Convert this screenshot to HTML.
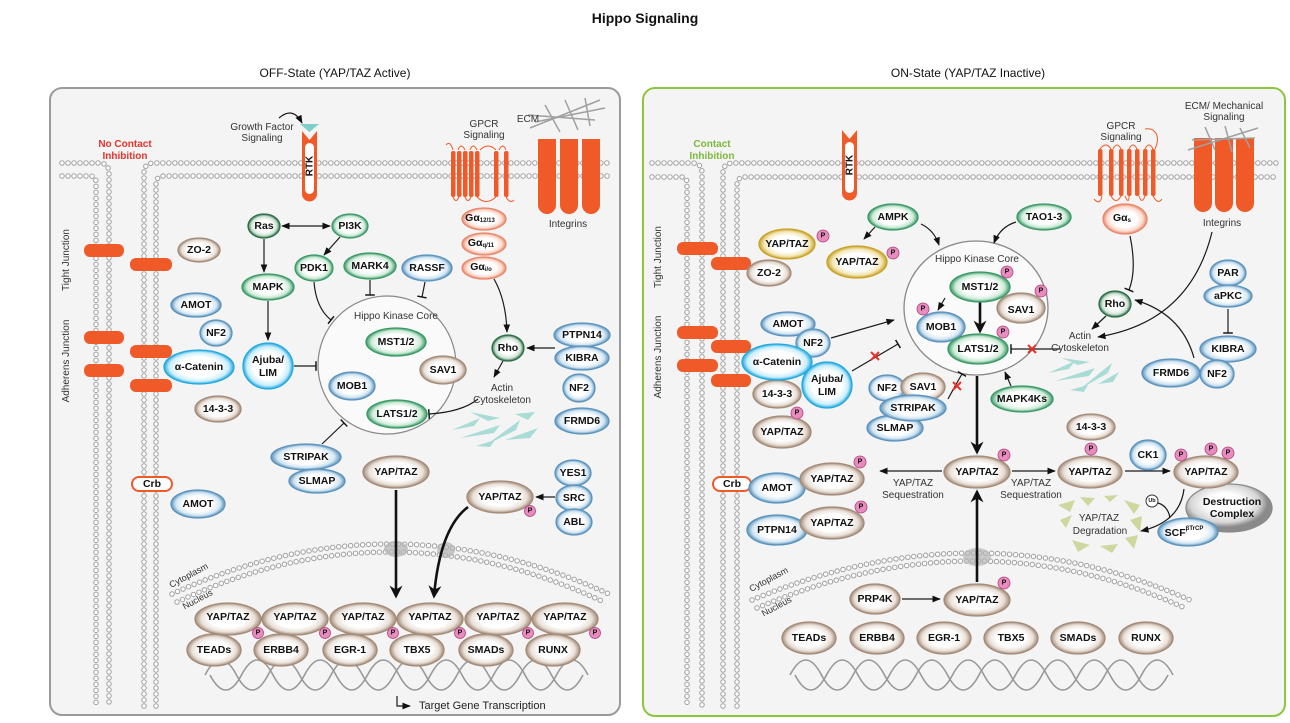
<!DOCTYPE html>
<html><head><meta charset="utf-8"><style>
html,body{margin:0;padding:0;background:#fff;}
svg{display:block;}
text{font-family:"Liberation Sans",sans-serif;fill:#111;}
.n{font-size:10.5px;font-weight:bold;text-anchor:middle;dominant-baseline:central;}
.s{font-family:"Liberation Sans Narrow","Liberation Sans",sans-serif;font-size:10px;text-anchor:middle;fill:#333;}
.p{font-size:7px;font-weight:bold;text-anchor:middle;dominant-baseline:central;}
ellipse{stroke-width:1.3;}
.c{fill:none;stroke:#1a1a1a;stroke-width:1.2;}
.k{fill:none;stroke:#111;stroke-width:2.6;}
.mg{fill:none;stroke:#a3a3a3;stroke-width:5.5;stroke-dasharray:0 6;stroke-linecap:round;}
.mw{fill:none;stroke:#fff;stroke-width:3.4;stroke-dasharray:0 6;stroke-linecap:round;}
.or{fill:#ef5a28;}
.x{stroke:#e8322a;stroke-width:2;}
</style></head><body>
<svg width="1290" height="723" viewBox="0 0 1290 723" xmlns="http://www.w3.org/2000/svg">
<defs>
<radialGradient id="gG"><stop offset="0.55" stop-color="#fff"/><stop offset="0.82" stop-color="#cdebd8"/><stop offset="1" stop-color="#3a9a66"/></radialGradient>
<radialGradient id="gB"><stop offset="0.55" stop-color="#fff"/><stop offset="0.82" stop-color="#d3e6f2"/><stop offset="1" stop-color="#5b93bd"/></radialGradient>
<radialGradient id="gN"><stop offset="0.55" stop-color="#fff"/><stop offset="0.82" stop-color="#e9e0d8"/><stop offset="1" stop-color="#a38b79"/></radialGradient>
<radialGradient id="gC"><stop offset="0.6" stop-color="#fff"/><stop offset="0.85" stop-color="#c9eefb"/><stop offset="1" stop-color="#22a9e0"/></radialGradient>
<radialGradient id="gY"><stop offset="0.55" stop-color="#fff"/><stop offset="0.82" stop-color="#f3e6b5"/><stop offset="1" stop-color="#c9a227"/></radialGradient>
<radialGradient id="gS"><stop offset="0.55" stop-color="#fff"/><stop offset="0.82" stop-color="#fbd9cd"/><stop offset="1" stop-color="#e8876a"/></radialGradient>
<radialGradient id="gD"><stop offset="0.5" stop-color="#fff"/><stop offset="0.8" stop-color="#cfe3d5"/><stop offset="1" stop-color="#2c6e45"/></radialGradient>
<radialGradient id="gX" cx="0.45" cy="0.4"><stop offset="0.4" stop-color="#fff"/><stop offset="0.8" stop-color="#d6d6d6"/><stop offset="1" stop-color="#8a8a8a"/></radialGradient>
<marker id="a" viewBox="0 0 10 10" refX="9" refY="5" markerWidth="7" markerHeight="7" orient="auto-start-reverse"><path d="M0 1L10 5L0 9Z" fill="#111"/></marker>
<marker id="A" viewBox="0 0 10 10" refX="8" refY="5" markerWidth="5" markerHeight="5" orient="auto"><path d="M0 0L10 5L0 10L3 5Z" fill="#111"/></marker>
<marker id="t" viewBox="0 0 4 10" refX="2" refY="5" markerWidth="3.5" markerHeight="8" orient="auto"><path d="M2 0V10" stroke="#111" stroke-width="1.5"/></marker>
<pattern id="rung" width="4" height="10" patternUnits="userSpaceOnUse"><path d="M2 0V10" stroke="#bbb" stroke-width="0.9"/></pattern>
<path id="m1" d="M62 163H99Q109 163 109 173V706"/>
<path id="m2" d="M62 176H90Q96 176 96 182V706"/>
<path id="m3" d="M144 706V173Q144 163 154 163H612"/>
<path id="m4" d="M156 706V184Q156 176 164 176H612"/>
<path id="r1" d="M652 163H692Q702 163 702 173V706"/>
<path id="r2" d="M652 177H681Q687 177 687 183V706"/>
<path id="r3" d="M723 706V173Q723 163 733 163H1278"/>
<path id="r4" d="M737 706V185Q737 177 745 177H1278"/>
<path id="n1" d="M172 594Q390 494 609 594"/>
<path id="n2" d="M177 602Q390 502 604 602"/>
<path id="n3" d="M752 600Q977 506 1190 600"/>
<path id="n4" d="M757 608Q977 514 1185 608"/>
</defs>

<text x="645" y="23" style="font-size:14px;font-weight:bold;text-anchor:middle">Hippo Signaling</text>
<text x="335" y="77" style="font-size:12px;text-anchor:middle">OFF-State (YAP/TAZ Active)</text>
<text x="968" y="77" style="font-size:12px;text-anchor:middle">ON-State (YAP/TAZ Inactive)</text>

<rect x="50" y="88" width="570" height="627" rx="12" fill="#f4f4f4" stroke="#9a9a9a" stroke-width="2"/>
<rect x="643" y="88" width="642" height="628" rx="12" fill="#f4f4f4" stroke="#8cc63e" stroke-width="2"/>

<g class="mg"><use href="#m1"/><use href="#m2"/><use href="#m3"/><use href="#m4"/><use href="#r1"/><use href="#r2"/><use href="#r3"/><use href="#r4"/><use href="#n1"/><use href="#n2"/><use href="#n3"/><use href="#n4"/></g>
<g class="mw"><use href="#m1"/><use href="#m2"/><use href="#m3"/><use href="#m4"/><use href="#r1"/><use href="#r2"/><use href="#r3"/><use href="#r4"/><use href="#n1"/><use href="#n2"/><use href="#n3"/><use href="#n4"/></g>
<g fill="#b5b5b5" opacity="0.7"><ellipse cx="396" cy="549" rx="12" ry="8" stroke="none"/><ellipse cx="446" cy="550" rx="9" ry="8" stroke="none"/><ellipse cx="977" cy="557" rx="14" ry="9" stroke="none"/></g>
<text class="s" transform="translate(190,578) rotate(-28)" style="font-size:9px">Cytoplasm</text>
<text class="s" transform="translate(199,602) rotate(-28)" style="font-size:9px">Nucleus</text>
<text class="s" transform="translate(770,582) rotate(-28)" style="font-size:9px">Cytoplasm</text>
<text class="s" transform="translate(778,609) rotate(-28)" style="font-size:9px">Nucleus</text>

<text class="s" transform="translate(69,260) rotate(-90)">Tight Junction</text>
<text class="s" transform="translate(69,361) rotate(-90)">Adherens Junction</text>
<text class="s" transform="translate(661,257) rotate(-90)">Tight Junction</text>
<text class="s" transform="translate(661,357) rotate(-90)">Adherens Junction</text>
<text x="125" y="147" style="font-size:10px;font-weight:bold;fill:#e8322a;text-anchor:middle">No Contact</text>
<text x="125" y="159" style="font-size:10px;font-weight:bold;fill:#e8322a;text-anchor:middle">Inhibition</text>
<text x="712" y="147" style="font-size:10px;font-weight:bold;fill:#7cb83a;text-anchor:middle">Contact</text>
<text x="712" y="159" style="font-size:10px;font-weight:bold;fill:#7cb83a;text-anchor:middle">Inhibition</text>

<g class="or">
<rect x="84" y="244" width="40" height="13" rx="6"/><rect x="130" y="258" width="42" height="13" rx="6"/>
<rect x="84" y="331" width="40" height="13" rx="6"/><rect x="130" y="345" width="42" height="13" rx="6"/>
<rect x="84" y="364" width="40" height="13" rx="6"/><rect x="130" y="379" width="42" height="13" rx="6"/>
<rect x="677" y="242" width="41" height="13" rx="6"/><rect x="711" y="257" width="40" height="13" rx="6"/>
<rect x="677" y="326" width="41" height="13" rx="6"/><rect x="711" y="340" width="40" height="13" rx="6"/>
<rect x="677" y="359" width="41" height="13" rx="6"/><rect x="711" y="374" width="40" height="13" rx="6"/>
</g>

<path class="or" d="M302 131L309.5 140L317 131V194A7.5 7.5 0 0 1 302 194Z"/>
<rect x="305" y="143" width="9" height="51" rx="4.5" fill="#fff"/>
<polygon points="300,124 319,124 309.5,132" fill="#7fcfc8"/>
<text class="n" transform="translate(310,166) rotate(-90)" style="font-size:10px">RTK</text>
<path class="or" d="M842 130L849.5 139L857 130V193A7.5 7.5 0 0 1 842 193Z"/>
<rect x="845" y="142" width="9" height="51" rx="4.5" fill="#fff"/>
<text class="n" transform="translate(850,165) rotate(-90)" style="font-size:10px">RTK</text>
<text class="s" x="262" y="130">Growth Factor</text>
<text class="s" x="262" y="141">Signaling</text>
<path class="c" d="M279 118Q293 106 302 123" marker-end="url(#a)"/>

<g class="or">
<rect x="451" y="151" width="4.5" height="46" rx="2"/><rect x="457" y="151" width="4.5" height="46" rx="2"/><rect x="463" y="151" width="4.5" height="46" rx="2"/><rect x="469" y="151" width="4.5" height="46" rx="2"/><rect x="475" y="151" width="4.5" height="46" rx="2"/>
<rect x="494" y="151" width="4.5" height="46" rx="2"/><rect x="504" y="151" width="4.5" height="46" rx="2"/>
</g>
<path d="M446 145Q450 140 453 150M458 150Q461 142 465 150M470 150Q473 142 477 150M480 150Q488 142 496 150M499 150Q503 142 506 150M453 197Q456 204 459 197M465 197Q468 204 471 197M477 197Q486 206 496 197M506 197Q510 204 514 200" fill="none" stroke="#ef5a28" stroke-width="1"/>
<text class="s" x="484" y="127">GPCR</text><text class="s" x="484" y="138">Signaling</text>
<g stroke="#a0a0a0" stroke-width="1.5"><line x1="530" y1="128" x2="600" y2="100"/><line x1="535" y1="122" x2="605" y2="108"/><line x1="545" y1="105" x2="560" y2="132"/><line x1="565" y1="100" x2="578" y2="130"/><line x1="585" y1="98" x2="590" y2="126"/><line x1="528" y1="115" x2="595" y2="120"/></g>
<text class="s" x="528" y="122">ECM</text>
<g class="or"><rect x="538" y="139" width="18" height="75" rx="9"/><rect x="538" y="139" width="18" height="20"/><rect x="560" y="139" width="18" height="75" rx="9"/><rect x="560" y="139" width="18" height="20"/><rect x="582" y="139" width="18" height="75" rx="9"/><rect x="582" y="139" width="18" height="20"/></g>
<text class="s" x="568" y="227">Integrins</text>

<g class="or">
<rect x="1098" y="149" width="4.5" height="47" rx="2"/><rect x="1109" y="149" width="4.5" height="47" rx="2"/>
<rect x="1119" y="149" width="4.5" height="47" rx="2"/><rect x="1127" y="149" width="4.5" height="47" rx="2"/><rect x="1135" y="149" width="4.5" height="47" rx="2"/><rect x="1143" y="149" width="4.5" height="47" rx="2"/><rect x="1151" y="149" width="4.5" height="47" rx="2"/>
</g>
<path d="M1100 149Q1106 141 1111 149M1113 149Q1117 141 1121 149M1129 149Q1133 141 1137 149M1145 149Q1149 141 1153 149M1155 149Q1160 138 1155 132Q1152 128 1145 129M1094 199Q1100 206 1102 196M1111 196Q1116 205 1121 196M1125 196Q1129 205 1129 196M1139 196Q1142 205 1145 196M1153 196Q1158 205 1162 199" fill="none" stroke="#ef5a28" stroke-width="1"/>
<text class="s" x="1121" y="129">GPCR</text><text class="s" x="1121" y="140">Signaling</text>
<text class="s" x="1224" y="109">ECM/ Mechanical</text><text class="s" x="1224" y="120">Signaling</text>
<g class="or"><rect x="1194" y="138" width="18" height="74" rx="9"/><rect x="1194" y="138" width="18" height="20"/><rect x="1215" y="138" width="18" height="74" rx="9"/><rect x="1215" y="138" width="18" height="20"/><rect x="1236" y="138" width="18" height="74" rx="9"/><rect x="1236" y="138" width="18" height="20"/></g>
<g stroke="#a0a0a0" stroke-width="1.5"><line x1="1188" y1="150" x2="1258" y2="128"/><line x1="1192" y1="140" x2="1255" y2="138"/><line x1="1205" y1="127" x2="1215" y2="150"/><line x1="1225" y1="126" x2="1232" y2="152"/><line x1="1240" y1="128" x2="1250" y2="148"/></g>
<text class="s" x="1222" y="226">Integrins</text>

<g fill="#a9dcd6"><polygon points="452,430 480,418 474,426"/><polygon points="460,438 500,425 494,433"/><polygon points="486,445 520,420 516,430"/><polygon points="505,440 538,428 530,438"/><polygon points="470,412 500,418 488,421"/><polygon points="515,414 535,412 528,420"/><polygon points="476,446 495,440 490,447"/></g>
<g fill="#a9dcd6"><polygon points="1048,373 1075,361 1069,369"/><polygon points="1055,381 1095,368 1089,376"/><polygon points="1080,389 1112,363 1108,373"/><polygon points="1098,384 1119,372 1113,382"/><polygon points="1062,358 1090,362 1078,365"/><polygon points="1070,390 1088,385 1084,392"/></g>

<g fill="#cfd79e"><polygon points="1058,505 1075,500 1070,512"/><polygon points="1060,520 1072,515 1066,528"/><polygon points="1080,497 1095,498 1088,506"/><polygon points="1124,500 1140,505 1134,514"/><polygon points="1130,520 1142,516 1140,532"/><polygon points="1072,540 1090,545 1078,552"/><polygon points="1100,546 1118,544 1112,553"/><polygon points="1125,538 1138,535 1134,549"/><polygon points="1104,496 1118,495 1110,502"/></g>

<path d="M205 675Q220.75 645 236.5 675T268 675T299.5 675T331 675T362.5 675T394 675T425.5 675T457 675T488.5 675T520 675T551.5 675T583 675Q567.25 705 551.5 675T520 675T488.5 675T457 675T425.5 675T394 675T362.5 675T331 675T299.5 675T268 675T236.5 675T205 675Z" fill="url(#rung)"/>
<path d="M205 675Q220.75 645 236.5 675T268 675T299.5 675T331 675T362.5 675T394 675T425.5 675T457 675T488.5 675T520 675T551.5 675T583 675" fill="none" stroke="#999" stroke-width="1.6"/>
<path d="M210 675Q225.75 705 241.5 675T273 675T304.5 675T336 675T367.5 675T399 675T430.5 675T462 675T493.5 675T525 675T556.5 675T588 675" fill="none" stroke="#999" stroke-width="1.6"/>
<path d="M790 675Q805.75 645 821.5 675T853 675T884.5 675T916 675T947.5 675T979 675T1010.5 675T1042 675T1073.5 675T1105 675T1136.5 675T1168 675Q1152.25 705 1136.5 675T1105 675T1073.5 675T1042 675T1010.5 675T979 675T947.5 675T916 675T884.5 675T853 675T821.5 675T790 675Z" fill="url(#rung)"/>
<path d="M790 675Q805.75 645 821.5 675T853 675T884.5 675T916 675T947.5 675T979 675T1010.5 675T1042 675T1073.5 675T1105 675T1136.5 675T1168 675" fill="none" stroke="#999" stroke-width="1.6"/>
<path d="M795 675Q810.75 705 826.5 675T858 675T889.5 675T921 675T952.5 675T984 675T1015.5 675T1047 675T1078.5 675T1110 675T1141.5 675T1173 675" fill="none" stroke="#999" stroke-width="1.6"/>
<path class="c" d="M397 696V706H410" marker-end="url(#a)"/>
<text x="419" y="709" style="font-size:11px;fill:#222">Target Gene Transcription</text>

<circle cx="387" cy="365" r="69" fill="#fafafa" stroke="#888" stroke-width="1.2"/>
<text class="s" x="396" y="319">Hippo Kinase Core</text>
<ellipse cx="976" cy="308" rx="72" ry="67" fill="#fafafa" stroke="#888" stroke-width="1.2"/>
<text class="s" x="977" y="262">Hippo Kinase Core</text>

<path class="c" d="M282 226H330" marker-start="url(#a)" marker-end="url(#a)"/>
<path class="c" d="M340 237L324 255" marker-end="url(#a)"/>
<path class="c" d="M264 239V272" marker-end="url(#a)"/>
<path class="c" d="M268 301V340" marker-end="url(#a)"/>
<path class="c" d="M314 282Q316 308 331 320" marker-end="url(#t)"/>
<path class="c" d="M370 280V295" marker-end="url(#t)"/>
<path class="c" d="M425 282L422 297" marker-end="url(#t)"/>
<path class="c" d="M294 366H316" marker-end="url(#t)"/>
<path class="c" d="M494 279Q506 300 507 332" marker-end="url(#a)"/>
<path class="c" d="M555 348H527" marker-end="url(#a)"/>
<path class="c" d="M503 361L494 377" marker-end="url(#a)"/>
<path class="c" d="M478 399Q462 412 429 414" marker-end="url(#t)"/>
<path class="c" d="M322 444L344 423" marker-end="url(#t)"/>
<path class="c" d="M555 497H536" marker-end="url(#a)"/>
<path class="k" d="M396 490V596" marker-end="url(#A)"/>
<path class="k" d="M468 507Q440 528 434 596" marker-end="url(#A)"/>

<path class="c" d="M875 227L864 239" marker-end="url(#a)"/>
<path class="c" d="M921 224Q934 230 939 245" marker-end="url(#a)"/>
<path class="c" d="M1016 222Q1000 227 994 243" marker-end="url(#a)"/>
<path class="c" d="M945 298L938 310" marker-end="url(#a)"/>
<path class="k" d="M980 302V331" marker-end="url(#A)"/>
<path class="c" d="M831 338L894 320" marker-end="url(#a)"/>
<path class="c" d="M852 371L898 344" marker-end="url(#t)"/>
<path class="c" d="M948 399Q955 386 962 374" marker-end="url(#t)"/>
<path class="c" d="M1011 386L1005 372" marker-end="url(#a)"/>
<path class="c" d="M1060 349H1011" marker-end="url(#t)"/>
<path class="c" d="M1130 236Q1137 270 1129 290" marker-end="url(#t)"/>
<path class="c" d="M1106 316L1092 329" marker-end="url(#a)"/>
<path class="c" d="M1212 232Q1190 322 1098 337" marker-end="url(#a)"/>
<path class="c" d="M1194 358Q1182 314 1135 300" marker-end="url(#a)"/>
<path class="c" d="M1228 309V333" marker-end="url(#t)"/>
<path class="k" d="M977 376V452" marker-end="url(#A)"/>
<path class="c" d="M942 471H880" marker-end="url(#a)"/>
<path class="c" d="M1012 471H1055" marker-end="url(#a)"/>
<path class="c" d="M1125 471H1170" marker-end="url(#a)"/>
<path class="c" d="M1184 489Q1180 522 1141 531" marker-end="url(#a)"/>
<path class="c" d="M1158 503Q1168 506 1170 518"/>
<path class="c" d="M902 599H940" marker-end="url(#a)"/>
<path class="k" d="M977 582V492" marker-end="url(#A)"/>
<g class="x"><path d="M871 352L879 360M879 352L871 360"/><path d="M953 382L961 390M961 382L953 390"/><path d="M1028 345L1036 353M1036 345L1028 353"/></g>

<ellipse cx="264" cy="226" rx="16" ry="12" fill="url(#gD)" stroke="#2c6e45"/><text class="n" x="264" y="226">Ras</text>
<ellipse cx="350" cy="226" rx="18" ry="12" fill="url(#gG)" stroke="#3a9a66"/><text class="n" x="350" y="226">PI3K</text>
<ellipse cx="314" cy="268" rx="19" ry="13" fill="url(#gG)" stroke="#3a9a66"/><text class="n" x="314" y="268">PDK1</text>
<ellipse cx="370" cy="266" rx="26" ry="13" fill="url(#gG)" stroke="#3a9a66"/><text class="n" x="370" y="266">MARK4</text>
<ellipse cx="427" cy="268" rx="25" ry="13" fill="url(#gB)" stroke="#5b93bd"/><text class="n" x="427" y="268">RASSF</text>
<ellipse cx="268" cy="287" rx="26" ry="13" fill="url(#gG)" stroke="#3a9a66"/><text class="n" x="268" y="287">MAPK</text>
<ellipse cx="199" cy="250" rx="21" ry="12" fill="url(#gN)" stroke="#a38b79"/><text class="n" x="199" y="250">ZO-2</text>
<ellipse cx="196" cy="305" rx="25" ry="12" fill="url(#gB)" stroke="#5b93bd"/><text class="n" x="196" y="305">AMOT</text>
<ellipse cx="216" cy="333" rx="16" ry="13" fill="url(#gB)" stroke="#5b93bd"/><text class="n" x="216" y="333">NF2</text>
<ellipse cx="199" cy="367" rx="35" ry="17" fill="url(#gC)" stroke="#22a9e0" stroke-width="2"/><text class="n" x="199" y="367">α-Catenin</text>
<ellipse cx="268" cy="366" rx="25" ry="23" fill="url(#gC)" stroke="#22a9e0" stroke-width="2"/><text class="n" x="268" y="360">Ajuba/</text><text class="n" x="268" y="373">LIM</text>
<ellipse cx="218" cy="409" rx="23" ry="13" fill="url(#gN)" stroke="#a38b79"/><text class="n" x="218" y="409">14-3-3</text>
<ellipse cx="396" cy="342" rx="30" ry="14" fill="url(#gG)" stroke="#3a9a66"/><text class="n" x="396" y="342">MST1/2</text>
<ellipse cx="443" cy="370" rx="23" ry="14" fill="url(#gN)" stroke="#a38b79"/><text class="n" x="443" y="370">SAV1</text>
<ellipse cx="352" cy="386" rx="23" ry="14" fill="url(#gB)" stroke="#5b93bd"/><text class="n" x="352" y="386">MOB1</text>
<ellipse cx="397" cy="414" rx="30" ry="14" fill="url(#gG)" stroke="#3a9a66"/><text class="n" x="397" y="414">LATS1/2</text>
<ellipse cx="508" cy="348" rx="16" ry="13" fill="url(#gD)" stroke="#2c6e45"/><text class="n" x="508" y="348">Rho</text>
<ellipse cx="582" cy="335" rx="28" ry="12" fill="url(#gB)" stroke="#5b93bd"/><text class="n" x="582" y="335">PTPN14</text>
<ellipse cx="582" cy="358" rx="27" ry="12" fill="url(#gB)" stroke="#5b93bd"/><text class="n" x="582" y="358">KIBRA</text>
<ellipse cx="579" cy="388" rx="16" ry="14" fill="url(#gB)" stroke="#5b93bd"/><text class="n" x="579" y="388">NF2</text>
<ellipse cx="582" cy="421" rx="27" ry="13" fill="url(#gB)" stroke="#5b93bd"/><text class="n" x="582" y="421">FRMD6</text>
<text class="s" x="502" y="391">Actin</text><text class="s" x="502" y="403">Cytoskeleton</text>
<ellipse cx="484" cy="219" rx="22" ry="11" fill="url(#gS)" stroke="#e8876a"/><text class="n" x="480" y="218">Gα<tspan style="font-size:6px" dy="3">12/13</tspan></text>
<ellipse cx="484" cy="244" rx="22" ry="11" fill="url(#gS)" stroke="#e8876a"/><text class="n" x="481" y="243">Gα<tspan style="font-size:6px" dy="3">q/11</tspan></text>
<ellipse cx="484" cy="268" rx="22" ry="11" fill="url(#gS)" stroke="#e8876a"/><text class="n" x="481" y="267">Gα<tspan style="font-size:6px" dy="3">i/o</tspan></text>
<ellipse cx="306" cy="457" rx="35" ry="13" fill="url(#gB)" stroke="#5b93bd"/><text class="n" x="306" y="457">STRIPAK</text>
<ellipse cx="317" cy="481" rx="28" ry="12" fill="url(#gB)" stroke="#5b93bd"/><text class="n" x="317" y="481">SLMAP</text>
<ellipse cx="396" cy="472" rx="33" ry="16" fill="url(#gN)" stroke="#a38b79"/><text class="n" x="396" y="472">YAP/TAZ</text>
<ellipse cx="573" cy="473" rx="18" ry="13" fill="url(#gB)" stroke="#5b93bd"/><text class="n" x="573" y="473">YES1</text>
<ellipse cx="574" cy="498" rx="18" ry="13" fill="url(#gB)" stroke="#5b93bd"/><text class="n" x="574" y="498">SRC</text>
<ellipse cx="574" cy="522" rx="18" ry="13" fill="url(#gB)" stroke="#5b93bd"/><text class="n" x="574" y="522">ABL</text>
<ellipse cx="500" cy="497" rx="33" ry="16" fill="url(#gN)" stroke="#a38b79"/><text class="n" x="500" y="497">YAP/TAZ</text>
<rect x="132" y="477" width="40" height="14" rx="7" fill="#fff" stroke="#ef5a28" stroke-width="2"/><text class="n" x="152" y="484">Crb</text>
<ellipse cx="198" cy="504" rx="27" ry="14" fill="url(#gB)" stroke="#5b93bd"/><text class="n" x="198" y="504">AMOT</text>
<g>
<ellipse cx="228" cy="619" rx="33" ry="16" fill="url(#gN)" stroke="#a38b79"/><text class="n" x="228" y="617">YAP/TAZ</text>
<ellipse cx="295" cy="619" rx="33" ry="16" fill="url(#gN)" stroke="#a38b79"/><text class="n" x="295" y="617">YAP/TAZ</text>
<ellipse cx="363" cy="619" rx="33" ry="16" fill="url(#gN)" stroke="#a38b79"/><text class="n" x="363" y="617">YAP/TAZ</text>
<ellipse cx="430" cy="619" rx="33" ry="16" fill="url(#gN)" stroke="#a38b79"/><text class="n" x="430" y="617">YAP/TAZ</text>
<ellipse cx="498" cy="619" rx="33" ry="16" fill="url(#gN)" stroke="#a38b79"/><text class="n" x="498" y="617">YAP/TAZ</text>
<ellipse cx="565" cy="619" rx="33" ry="16" fill="url(#gN)" stroke="#a38b79"/><text class="n" x="565" y="617">YAP/TAZ</text>
</g>
<g>
<ellipse cx="214" cy="650" rx="27" ry="16" fill="url(#gN)" stroke="#a38b79"/><text class="n" x="214" y="650">TEADs</text>
<ellipse cx="281" cy="650" rx="27" ry="16" fill="url(#gN)" stroke="#a38b79"/><text class="n" x="281" y="650">ERBB4</text>
<ellipse cx="350" cy="650" rx="27" ry="16" fill="url(#gN)" stroke="#a38b79"/><text class="n" x="350" y="650">EGR-1</text>
<ellipse cx="417" cy="650" rx="27" ry="16" fill="url(#gN)" stroke="#a38b79"/><text class="n" x="417" y="650">TBX5</text>
<ellipse cx="486" cy="650" rx="27" ry="16" fill="url(#gN)" stroke="#a38b79"/><text class="n" x="486" y="650">SMADs</text>
<ellipse cx="553" cy="650" rx="27" ry="16" fill="url(#gN)" stroke="#a38b79"/><text class="n" x="553" y="650">RUNX</text>
</g>

<ellipse cx="787" cy="244" rx="28" ry="15" fill="url(#gY)" stroke="#c9a227"/><text class="n" x="787" y="244">YAP/TAZ</text>
<ellipse cx="769" cy="273" rx="22" ry="13" fill="url(#gN)" stroke="#a38b79"/><text class="n" x="769" y="273">ZO-2</text>
<ellipse cx="857" cy="262" rx="30" ry="16" fill="url(#gY)" stroke="#c9a227"/><text class="n" x="857" y="262">YAP/TAZ</text>
<ellipse cx="893" cy="217" rx="25" ry="13" fill="url(#gG)" stroke="#3a9a66"/><text class="n" x="893" y="217">AMPK</text>
<ellipse cx="1044" cy="217" rx="27" ry="13" fill="url(#gG)" stroke="#3a9a66"/><text class="n" x="1044" y="217">TAO1-3</text>
<ellipse cx="1125" cy="219" rx="22" ry="15" fill="url(#gS)" stroke="#e8876a"/><text class="n" x="1122" y="218">Gα<tspan style="font-size:6px" dy="3">s</tspan></text>
<ellipse cx="1021" cy="308" rx="24" ry="15" fill="url(#gN)" stroke="#a38b79"/><text class="n" x="1021" y="310">SAV1</text>
<ellipse cx="980" cy="287" rx="30" ry="15" fill="url(#gG)" stroke="#3a9a66"/><text class="n" x="980" y="287">MST1/2</text>
<ellipse cx="941" cy="327" rx="24" ry="15" fill="url(#gB)" stroke="#5b93bd"/><text class="n" x="941" y="327">MOB1</text>
<ellipse cx="978" cy="349" rx="30" ry="15" fill="url(#gG)" stroke="#3a9a66"/><text class="n" x="978" y="349">LATS1/2</text>
<ellipse cx="788" cy="324" rx="27" ry="12" fill="url(#gB)" stroke="#5b93bd"/><text class="n" x="788" y="324">AMOT</text>
<ellipse cx="813" cy="343" rx="17" ry="14" fill="url(#gB)" stroke="#5b93bd"/><text class="n" x="813" y="343">NF2</text>
<ellipse cx="782" cy="432" rx="29" ry="16" fill="url(#gN)" stroke="#a38b79"/><text class="n" x="782" y="432">YAP/TAZ</text>
<ellipse cx="777" cy="394" rx="24" ry="14" fill="url(#gN)" stroke="#a38b79"/><text class="n" x="777" y="394">14-3-3</text>
<ellipse cx="777" cy="362" rx="35" ry="18" fill="url(#gC)" stroke="#22a9e0" stroke-width="2"/><text class="n" x="777" y="362">α-Catenin</text>
<ellipse cx="827" cy="385" rx="25" ry="23" fill="url(#gC)" stroke="#22a9e0" stroke-width="2"/><text class="n" x="827" y="379">Ajuba/</text><text class="n" x="827" y="392">LIM</text>
<ellipse cx="895" cy="428" rx="28" ry="13" fill="url(#gB)" stroke="#5b93bd"/><text class="n" x="895" y="428">SLMAP</text>
<ellipse cx="887" cy="388" rx="18" ry="13" fill="url(#gB)" stroke="#5b93bd"/><text class="n" x="887" y="388">NF2</text>
<ellipse cx="923" cy="387" rx="22" ry="14" fill="url(#gN)" stroke="#a38b79"/><text class="n" x="923" y="387">SAV1</text>
<ellipse cx="913" cy="408" rx="33" ry="13" fill="url(#gB)" stroke="#5b93bd"/><text class="n" x="913" y="408">STRIPAK</text>
<ellipse cx="1022" cy="399" rx="31" ry="13" fill="url(#gG)" stroke="#3a9a66"/><text class="n" x="1022" y="399">MAPK4Ks</text>
<ellipse cx="1115" cy="304" rx="16" ry="13" fill="url(#gD)" stroke="#2c6e45"/><text class="n" x="1115" y="304">Rho</text>
<text class="s" x="1080" y="339">Actin</text><text class="s" x="1080" y="351">Cytoskeleton</text>
<ellipse cx="1228" cy="273" rx="18" ry="13" fill="url(#gB)" stroke="#5b93bd"/><text class="n" x="1228" y="273">PAR</text>
<ellipse cx="1228" cy="296" rx="24" ry="11" fill="url(#gB)" stroke="#5b93bd"/><text class="n" x="1228" y="296">aPKC</text>
<ellipse cx="1228" cy="349" rx="28" ry="13" fill="url(#gB)" stroke="#5b93bd"/><text class="n" x="1228" y="349">KIBRA</text>
<ellipse cx="1171" cy="373" rx="29" ry="14" fill="url(#gB)" stroke="#5b93bd"/><text class="n" x="1171" y="373">FRMD6</text>
<ellipse cx="1217" cy="374" rx="17" ry="14" fill="url(#gB)" stroke="#5b93bd"/><text class="n" x="1217" y="374">NF2</text>
<ellipse cx="1091" cy="427" rx="24" ry="13" fill="url(#gN)" stroke="#a38b79"/><text class="n" x="1091" y="427">14-3-3</text>
<ellipse cx="977" cy="472" rx="33" ry="16" fill="url(#gN)" stroke="#a38b79"/><text class="n" x="977" y="472">YAP/TAZ</text>
<ellipse cx="1090" cy="472" rx="32" ry="16" fill="url(#gN)" stroke="#a38b79"/><text class="n" x="1090" y="472">YAP/TAZ</text>
<ellipse cx="1148" cy="455" rx="18" ry="15" fill="url(#gB)" stroke="#5b93bd"/><text class="n" x="1148" y="455">CK1</text>
<ellipse cx="1229" cy="508" rx="43" ry="24" fill="url(#gX)" stroke="#8a8a8a"/><text class="n" x="1232" y="502">Destruction</text><text class="n" x="1232" y="514">Complex</text>
<ellipse cx="1206" cy="472" rx="32" ry="16" fill="url(#gN)" stroke="#a38b79"/><text class="n" x="1206" y="472">YAP/TAZ</text>
<ellipse cx="1188" cy="532" rx="30" ry="14" fill="url(#gB)" stroke="#5b93bd"/><text class="n" x="1184" y="533">SCF<tspan style="font-size:6px" dy="-4">βTrCP</tspan></text>
<circle cx="1152" cy="501" r="6" fill="#fff" stroke="#333"/><text class="p" x="1152" y="501" style="font-size:5.5px">Ub</text>
<text class="s" x="1099" y="521">YAP/TAZ</text><text class="s" x="1100" y="534">Degradation</text>
<text class="s" x="913" y="486">YAP/TAZ</text><text class="s" x="913" y="498">Sequestration</text>
<text class="s" x="1031" y="486">YAP/TAZ</text><text class="s" x="1031" y="498">Sequestration</text>
<rect x="713" y="477" width="38" height="14" rx="7" fill="#fff" stroke="#ef5a28" stroke-width="2"/><text class="n" x="732" y="484">Crb</text>
<ellipse cx="777" cy="488" rx="28" ry="15" fill="url(#gB)" stroke="#5b93bd"/><text class="n" x="777" y="488">AMOT</text>
<ellipse cx="832" cy="479" rx="32" ry="16" fill="url(#gN)" stroke="#a38b79"/><text class="n" x="832" y="479">YAP/TAZ</text>
<ellipse cx="777" cy="530" rx="30" ry="15" fill="url(#gB)" stroke="#5b93bd"/><text class="n" x="777" y="530">PTPN14</text>
<ellipse cx="832" cy="523" rx="32" ry="16" fill="url(#gN)" stroke="#a38b79"/><text class="n" x="832" y="523">YAP/TAZ</text>
<ellipse cx="875" cy="599" rx="25" ry="15" fill="url(#gN)" stroke="#a38b79"/><text class="n" x="875" y="599">PRP4K</text>
<ellipse cx="977" cy="600" rx="33" ry="16" fill="url(#gN)" stroke="#a38b79"/><text class="n" x="977" y="600">YAP/TAZ</text>
<g>
<ellipse cx="809" cy="638" rx="27" ry="16" fill="url(#gN)" stroke="#a38b79"/><text class="n" x="809" y="638">TEADs</text>
<ellipse cx="877" cy="638" rx="27" ry="16" fill="url(#gN)" stroke="#a38b79"/><text class="n" x="877" y="638">ERBB4</text>
<ellipse cx="944" cy="638" rx="27" ry="16" fill="url(#gN)" stroke="#a38b79"/><text class="n" x="944" y="638">EGR-1</text>
<ellipse cx="1011" cy="638" rx="27" ry="16" fill="url(#gN)" stroke="#a38b79"/><text class="n" x="1011" y="638">TBX5</text>
<ellipse cx="1078" cy="638" rx="27" ry="16" fill="url(#gN)" stroke="#a38b79"/><text class="n" x="1078" y="638">SMADs</text>
<ellipse cx="1146" cy="638" rx="27" ry="16" fill="url(#gN)" stroke="#a38b79"/><text class="n" x="1146" y="638">RUNX</text>
</g>

<g fill="#e88bbf" stroke="#b0407a" stroke-width="0.8">
<circle cx="530" cy="511" r="5.5"/>
<circle cx="258" cy="633" r="5.5"/><circle cx="325" cy="633" r="5.5"/><circle cx="393" cy="633" r="5.5"/><circle cx="460" cy="633" r="5.5"/><circle cx="528" cy="633" r="5.5"/><circle cx="595" cy="633" r="5.5"/>
<circle cx="823" cy="236" r="6"/><circle cx="893" cy="253" r="6"/>
<circle cx="1007" cy="272" r="6"/><circle cx="1041" cy="291" r="6"/><circle cx="923" cy="309" r="6"/><circle cx="1003" cy="332" r="6"/>
<circle cx="797" cy="413" r="6"/>
<circle cx="1004" cy="455" r="6"/><circle cx="1091" cy="449" r="6"/>
<circle cx="1181" cy="455" r="6"/><circle cx="1211" cy="449" r="6"/><circle cx="1228" cy="453" r="6"/>
<circle cx="860" cy="462" r="6"/><circle cx="861" cy="507" r="6"/><circle cx="1004" cy="583" r="6"/>
</g>
<g>
<text class="p" x="530" y="511">P</text>
<text class="p" x="258" y="633">P</text><text class="p" x="325" y="633">P</text><text class="p" x="393" y="633">P</text><text class="p" x="460" y="633">P</text><text class="p" x="528" y="633">P</text><text class="p" x="595" y="633">P</text>
<text class="p" x="823" y="236">P</text><text class="p" x="893" y="253">P</text>
<text class="p" x="1007" y="272">P</text><text class="p" x="1041" y="291">P</text><text class="p" x="923" y="309">P</text><text class="p" x="1003" y="332">P</text>
<text class="p" x="797" y="413">P</text>
<text class="p" x="1004" y="455">P</text><text class="p" x="1091" y="449">P</text>
<text class="p" x="1181" y="455">P</text><text class="p" x="1211" y="449">P</text><text class="p" x="1228" y="453">P</text>
<text class="p" x="860" y="462">P</text><text class="p" x="861" y="507">P</text><text class="p" x="1004" y="583">P</text>
</g>
</svg>
</body></html>
